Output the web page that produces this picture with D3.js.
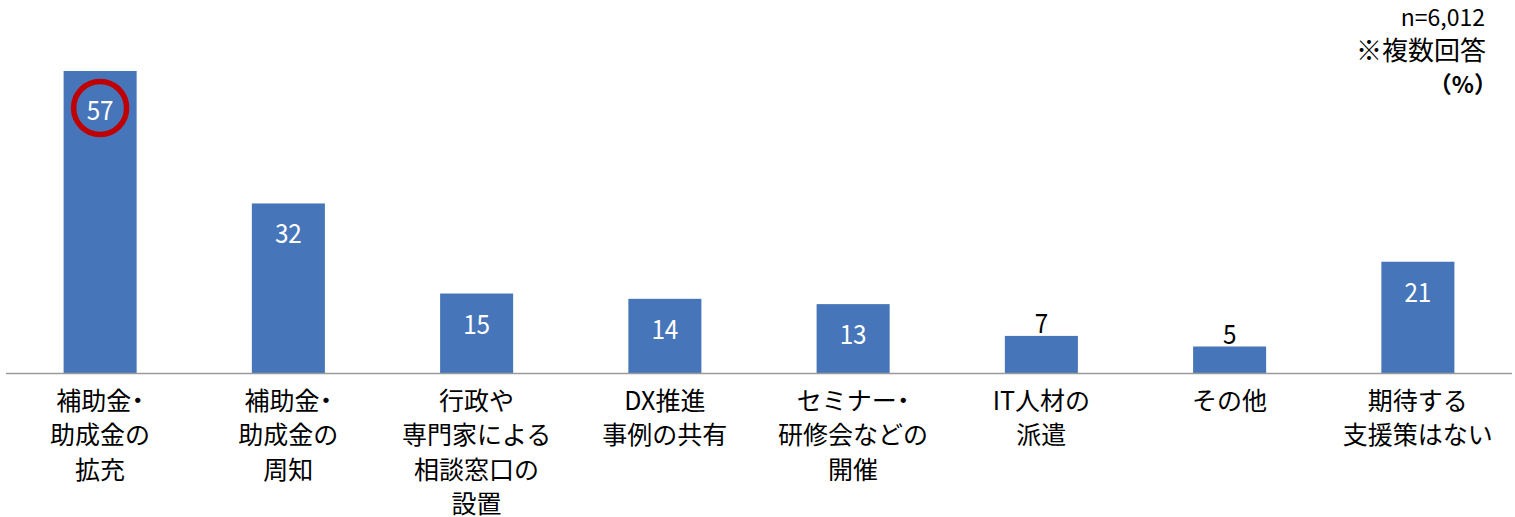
<!DOCTYPE html>
<html><head><meta charset="utf-8">
<script src="https://cdn.jsdelivr.net/npm/d3@7"></script>
<style>
html,body{margin:0;padding:0;background:#fff;}
svg{display:block;}
text{font-family:"Noto Sans CJK JP","Noto Sans",sans-serif;}
.half{font-feature-settings:"halt";}
</style></head>
<body>
<svg id="chart" width="1515" height="517"></svg>
<script>
const categories = [
  ["補助金・","助成金の","拡充"],
  ["補助金・","助成金の","周知"],
  ["行政や","専門家による","相談窓口の","設置"],
  ["DX推進","事例の共有"],
  ["セミナー・","研修会などの","開催"],
  ["IT人材の","派遣"],
  ["その他"],
  ["期待する","支援策はない"]
];
const values = [57, 32, 15, 14, 13, 7, 5, 21];
const highlightIndex = 0;
const notes = ["n=6,012", "※複数回答", "（%）"];

const svg = d3.select("#chart");
const ids = categories.map((c,i)=>i);
const x = d3.scaleBand().domain(ids).range([6, 1512]).paddingInner(0.612).paddingOuter(0.306);
const y = d3.scaleLinear().domain([0, 60]).range([373, 55.1]);
const barColor = "#4676b9";

svg.selectAll("rect.bar").data(values).join("rect")
  .attr("class","bar")
  .attr("x",(d,i)=>x(i)).attr("width",x.bandwidth())
  .attr("y",d=>y(d)).attr("height",d=>y(0)-y(d))
  .attr("fill",barColor);

// axis line
svg.append("line").attr("x1",6).attr("x2",1512).attr("y1",373.5).attr("y2",373.5)
  .attr("stroke","#9a9a9a").attr("stroke-width",1.5);

// value labels
svg.selectAll("text.val").data(values).join("text")
  .attr("class","val")
  .attr("transform",(d,i)=>{
    const cx = x(i)+x.bandwidth()/2;
    const by = d<10 ? y(d)-3 : (i===highlightIndex ? y(d)+49 : y(d)+40);
    return `translate(${cx},${by}) scale(0.9,1)`;
  })
  .attr("text-anchor","middle")
  .attr("font-family","Roboto, sans-serif")
  .attr("font-size",27)
  .attr("fill",d=> d<10 ? "#000" : "#fff")
  .text(d=>d);

// highlight circle
svg.append("circle")
  .attr("cx",x(highlightIndex)+x.bandwidth()/2)
  .attr("cy",y(values[highlightIndex])+37)
  .attr("r",26.5)
  .attr("fill","none").attr("stroke","#c00000").attr("stroke-width",5.5);

// category labels
categories.forEach((lines,i)=>{
  lines.forEach((ln,j)=>{
    const t = svg.append("text")
      .attr("text-anchor","middle")
      .attr("font-size",25)
      .attr("fill","#000")
      .attr("x",x(i)+x.bandwidth()/2).attr("y",410+j*34.3);
    ln.split(/(・)/).filter(s=>s.length).forEach(seg=>{
      const sp = t.append("tspan").text(seg);
      if (seg === "・") sp.attr("class","half");
    });
  });
});

// notes
svg.append("text").attr("x",1485).attr("y",26).attr("text-anchor","end")
  .attr("font-family","Roboto, sans-serif").attr("font-size",23).text(notes[0]);
svg.append("text").attr("x",1486).attr("y",60).attr("text-anchor","end").attr("font-size",26).text(notes[1]);
svg.append("text").attr("x",1497).attr("y",93).attr("text-anchor","end").attr("font-size",23).attr("font-weight","bold").text(notes[2]);
</script>
</body></html>
